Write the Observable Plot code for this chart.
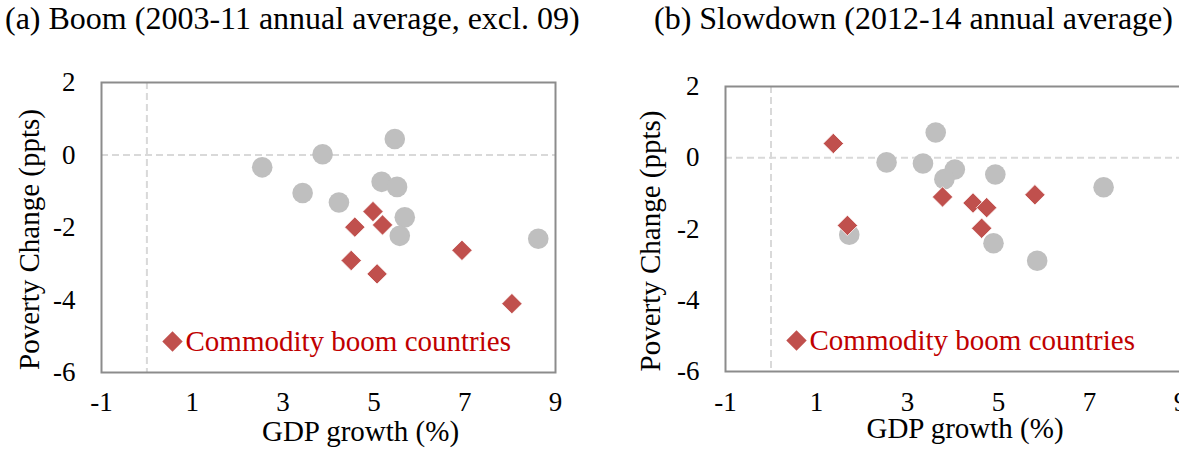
<!DOCTYPE html>
<html><head><meta charset="utf-8">
<script src="https://cdn.jsdelivr.net/npm/d3@7"></script>
<script src="https://cdn.jsdelivr.net/npm/@observablehq/plot@0.6"></script>
<style>
html,body{margin:0;padding:0;background:#fff;overflow:hidden;width:1179px;height:450px;}
.panel{position:absolute;top:0;}
.title{font-family:"Liberation Serif","Times New Roman",serif;font-size:32px;color:#000;white-space:nowrap;height:40px;line-height:36px;}
svg{display:block;max-width:none !important;}
</style></head><body>
<div id="a" class="panel" style="left:0;width:600px"></div>
<div id="b" class="panel" style="left:600px;width:620px"></div>
<script>
// ---- data ----
const titles = ["(a) Boom (2003-11 annual average, excl. 09)", "(b) Slowdown (2012-14 annual average)"];
const xLabel = "GDP growth (%)";
const yLabel = "Poverty Change (ppts)";
const legendLabel = "Commodity boom countries";
const xTicks = [-1, 1, 3, 5, 7, 9];
const yTicks = [-6, -4, -2, 0, 2];

// Panel (a): boom
const boomOtherGdp = [2.54, 3.87, 5.46, 3.43, 4.23, 5.17, 5.51, 5.68, 5.57, 8.62];
const boomOtherPov = [-0.34, 0.02, 0.44, -1.05, -1.31, -0.74, -0.88, -1.72, -2.23, -2.31];
const boomCommGdp  = [4.98, 4.58, 5.19, 4.50, 5.07, 6.94, 8.04];
const boomCommPov  = [-1.56, -1.99, -1.93, -2.91, -3.28, -2.63, -4.10];

// Panel (b): slowdown
const slowOtherGdp = [3.62, 2.54, 3.34, 4.04, 3.81, 4.93, 7.31, 1.72, 4.89, 5.85];
const slowOtherPov = [0.71, -0.13, -0.16, -0.33, -0.60, -0.47, -0.83, -2.16, -2.40, -2.89];
const slowCommGdp  = [1.37, 1.68, 3.77, 4.44, 4.74, 4.63, 5.80];
const slowCommPov  = [0.40, -1.90, -1.10, -1.27, -1.40, -1.98, -1.04];

const FONT = "Liberation Serif, Times New Roman, serif";

function panel(el, title, gx, gy, rx, ry, o) {
  const gray = gx.map((x, i) => ({x, y: gy[i]}));
  const red = rx.map((x, i) => ({x, y: ry[i]}));
  const t = document.createElement("div");
  t.className = "title";
  t.textContent = title;
  t.style.marginLeft = o.titleLeft + "px";
  el.append(t);
  const chart = Plot.plot({
    width: o.width, height: 410,
    marginLeft: o.ml, marginRight: o.mr, marginTop: o.mt, marginBottom: o.mb,
    style: {fontFamily: FONT, fontSize: "27px", color: "#000", background: "white", overflow: "visible", maxWidth: "none"},
    x: {domain: [-1, 9], ticks: xTicks, tickFormat: d => String(d), tickSize: 0, tickPadding: o.xPad, label: null},
    y: {domain: [-6, 2], ticks: yTicks, tickFormat: d => String(d), tickSize: 0, tickPadding: 26, label: null},
    marks: [
      Plot.ruleX([0], {stroke: "#d9d9d9", strokeWidth: 2, strokeDasharray: "7,4"}),
      Plot.ruleY([0], {stroke: "#d9d9d9", strokeWidth: 2, strokeDasharray: "7,4"}),
      Plot.frame({stroke: "#8c8c8c", strokeWidth: 2}),
      Plot.dot(gray, {x: "x", y: "y", r: 10.3, fill: "#bfbfbf", stroke: "none"}),
      Plot.dot(red, {x: "x", y: "y", r: 9.2, symbol: "diamond2", fill: "#c0504d", stroke: "#fff", strokeWidth: 0.8}),
      Plot.dot([0], {frameAnchor: "bottom-left", dx: o.legDx, dy: o.legDy, r: 9.2, symbol: "diamond2", fill: "#c0504d", stroke: "none"}),
      Plot.text([legendLabel], {text: d => d, frameAnchor: "bottom-left", dx: o.legDx + 13, dy: o.legDy, textAnchor: "start", lineAnchor: "middle", fill: "#c00000", fontSize: 29}),
      Plot.text([yLabel], {text: d => d, frameAnchor: "left", rotate: -90, dx: o.ylDx, dy: 12, textAnchor: "middle", lineAnchor: "middle", fontSize: 29, fill: "#000"}),
      Plot.text([xLabel], {text: d => d, frameAnchor: "bottom", dx: o.xlDx, dy: o.xlDy, textAnchor: "middle", lineAnchor: "middle", fontSize: 29, fill: "#000"})
    ]
  });
  el.append(chart);
}

panel(document.getElementById("a"), titles[0], boomOtherGdp, boomOtherPov, boomCommGdp, boomCommPov,
  {width: 590, ml: 101, mr: 35, mt: 42, mb: 78, titleLeft: 5, xPad: 19.5, legDx: 71, legDy: -31, ylDx: -72, xlDx: 32, xlDy: 59});
panel(document.getElementById("b"), titles[1], slowOtherGdp, slowOtherPov, slowCommGdp, slowCommPov,
  {width: 620, ml: 125, mr: 40, mt: 46, mb: 79, titleLeft: 54, xPad: 20, legDx: 71, legDy: -31, ylDx: -75, xlDx: 12, xlDy: 57.5});
</script>
</body></html>
